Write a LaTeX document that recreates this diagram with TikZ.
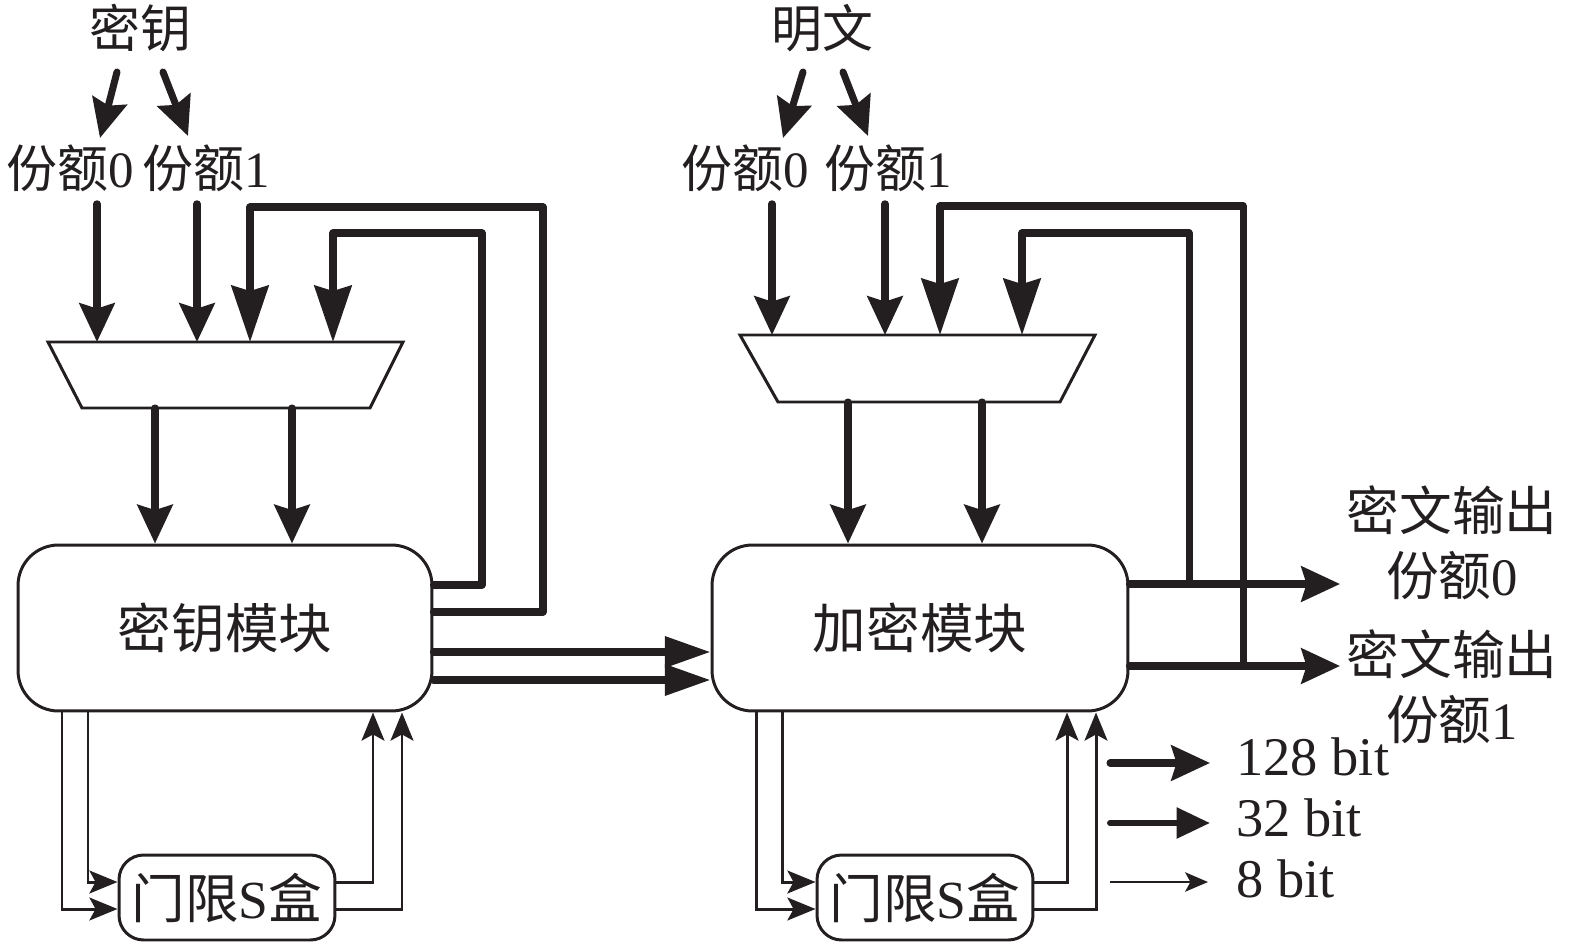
\documentclass[tikz,border=0pt]{standalone}
\usepackage{fontspec}
\setmainfont{Liberation Serif}
\newfontfamily\cjk{Noto Sans CJK SC}
\newcommand\zh[1]{{\cjk #1}}
\usetikzlibrary{arrows.meta,calc}
\definecolor{ink}{HTML}{231F20}
\tikzset{
  lbl/.style={inner sep=0pt, text=ink, font=\fontsize{29}{36}\selectfont},
  sml/.style={inner sep=0pt, text=ink, font=\fontsize{29}{34}\selectfont},
  blk/.style={draw=ink, line width=1.7pt, rounded corners=23pt, inner sep=0pt,
    text=ink, font=\fontsize{30.5}{36}\selectfont},
  mux/.style={draw=ink, line width=1.7pt},
  fat/.style={draw=ink, line width=4pt, line cap=round, line join=round,
    -{Stealth[length=22pt,width=20pt,inset=3pt]}},
  fb/.style={fat, -{Stealth[length=32pt,width=21pt,inset=3pt]}},
  bus/.style={fat, -{Triangle[length=26pt,width=17pt]}},
  thn/.style={draw=ink, line width=1.7pt, -{Stealth[length=16pt,width=13pt,inset=3.5pt]}},
}
\begin{document}
\begin{tikzpicture}[x=0.02cm, y=-0.02cm]
  \useasboundingbox (0,0) rectangle (1575,943);

  % input labels
  \node[lbl] (key) at (140,28) {\zh{密钥}};
  \node[lbl] (pt) at (822,28) {\zh{明文}};
  \node[sml] (sk0) at (70,168) {\zh{份额}0};
  \node[sml] (sk1) at (206,168) {\zh{份额}1};
  \node[sml] (sp0) at (745,168) {\zh{份额}0};
  \node[sml] (sp1) at (888,168) {\zh{份额}1};

  % blocks
  \node[blk, minimum width=8.28cm, minimum height=3.32cm] (kbox) at (225,628) {\zh{密钥模块}};
  \node[blk, minimum width=8.32cm, minimum height=3.32cm] (ebox) at (920,628) {\zh{加密模块}};
  \node[blk, rounded corners=14pt, minimum width=4.32cm, minimum height=1.7cm] (sbk) at (227,897.5) {\zh{门限}S\zh{盒}};
  \node[blk, rounded corners=14pt, minimum width=4.32cm, minimum height=1.7cm] (sbe) at (925,897.5) {\zh{门限}S\zh{盒}};

  % multiplexers
  \draw[mux] (48,342) -- (403,342) -- (370,408) -- (82,408) -- cycle;
  \draw[mux] (740,335) -- (1095,335) -- (1060,402) -- (778,402) -- cycle;
  \coordinate (kmt) at (225,342);
  \coordinate (kmb) at (225,408);
  \coordinate (emt) at (918,335);
  \coordinate (emb) at (918,402);

  % split into shares
  \draw[fat] ($(key)+(-23,44)$) -- ($(sk0)+(30,-30)$);
  \draw[fat] ($(key)+(23,44)$) -- ($(sk1)+(-18,-32)$);
  \draw[fat] ($(pt)+(-19,44)$) -- ($(sp0)+(38,-30)$);
  \draw[fat] ($(pt)+(21,44)$) -- ($(sp1)+(-20,-32)$);

  % shares into multiplexer
  \draw[fat] ($(sk0.south)+(27,12)$) -- (kmt -| 97,0);
  \draw[fat] ($(sk1.south)+(-9,12)$) -- (kmt -| 197,0);
  \draw[fat] ($(sp0.south)+(27,12)$) -- (emt -| 772,0);
  \draw[fat] ($(sp1.south)+(-3,12)$) -- (emt -| 885,0);

  % key feedback
  \draw[fb] (kbox.east |- 0,585) -| (482,233) -| (kmt -| 333,0);
  \draw[fb] (kbox.east |- 0,612) -| (543,207) -| (kmt -| 250,0);

  % multiplexer to block
  \draw[fat] (kmb -| 155,0) -- (kbox.north -| 155,0);
  \draw[fat] (kmb -| 292,0) -- (kbox.north -| 292,0);
  \draw[fat] (emb -| 848,0) -- (ebox.north -| 848,0);
  \draw[fat] (emb -| 982,0) -- (ebox.north -| 982,0);

  % round keys
  \draw[bus] (kbox.east |- 0,652) -- (ebox.west |- 0,652);
  \draw[bus] (kbox.east |- 0,680) -- (ebox.west |- 0,680);

  % outputs
  \node[lbl, align=center, font=\fontsize{30}{37}\selectfont] (ct0) at (1452,543) {\zh{密文输出}\\\zh{份额}0};
  \node[lbl, align=center, font=\fontsize{30}{37}\selectfont] (ct1) at (1452,687) {\zh{密文输出}\\\zh{份额}1};
  \coordinate (o0) at (1340,584);
  \coordinate (o1) at (1340,666);
  \draw[fat] (ebox.east |- o0) -- (o0);
  \draw[fat] (ebox.east |- o1) -- (o1);
  \draw[fb] (o0 -| 1189,0) |- (1022,233) -- (emt -| 1022,0);
  \draw[fb] (o1 -| 1243,0) |- (940,206) -- (emt -| 940,0);

  % S-box left
  \draw[thn] (kbox.south -| 88,0) |- (sbk.west |- 0,882);
  \draw[thn] (kbox.south -| 62,0) |- (sbk.west |- 0,909);
  \draw[thn] (sbk.east |- 0,882) -| (kbox.south -| 373,0);
  \draw[thn] (sbk.east |- 0,909) -| (kbox.south -| 402,0);

  % S-box right
  \draw[thn] (ebox.south -| 782,0) |- (sbe.west |- 0,882);
  \draw[thn] (ebox.south -| 756,0) |- (sbe.west |- 0,909);
  \draw[thn] (sbe.east |- 0,882) -| (ebox.south -| 1067,0);
  \draw[thn] (sbe.east |- 0,909) -| (ebox.south -| 1096,0);

  % legend
  \node[lbl, anchor=west, font=\fontsize{31}{36}\selectfont] (b128) at (1236,757) {128 bit};
  \node[lbl, anchor=west, font=\fontsize{31}{36}\selectfont] (b32) at (1236,818) {32 bit};
  \node[lbl, anchor=west, font=\fontsize{31}{36}\selectfont] (b8) at (1236,879) {8 bit};
  \coordinate (l128) at (1110,763);
  \coordinate (l32) at (1110,823);
  \coordinate (l8) at (1110,882);
  \draw[fat] (l128) -- ($(b128.west |- l128)+(-26,0)$);
  \draw[fat, line width=3.4pt, -{Triangle[length=19pt,width=17pt]}] (l32) -- ($(b32.west |- l32)+(-26,0)$);
  \draw[thn, line width=1.5pt, -{Stealth[length=13pt,width=11pt,inset=3pt]}] (l8) -- ($(b8.west |- l8)+(-28,0)$);
\end{tikzpicture}
\end{document}
